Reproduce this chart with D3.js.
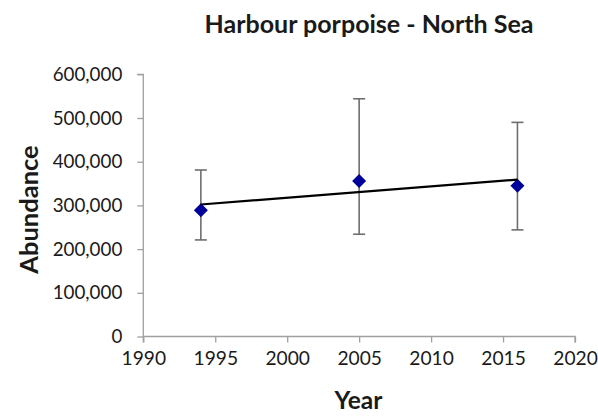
<!DOCTYPE html>
<html>
<head>
<meta charset="utf-8">
<script src="https://cdn.jsdelivr.net/npm/d3@7/dist/d3.min.js"></script>
<style>
  html, body { margin: 0; padding: 0; background: #fff; }
  svg { display: block; }
  text { font-family: Lato, "Open Sans", sans-serif; fill: #1a1a1a; }
</style>
</head>
<body>
<svg id="chart" width="598" height="418"></svg>
<script>
const years = [1994, 2005, 2016];
const abundance = [289000, 356000, 345000];
const lowerCI = [221000, 234000, 244000];
const upperCI = [381000, 544000, 490000];
const trendYears = [1994, 2016];
const trendValues = [302000, 359000];
const xTicks = [1990, 1995, 2000, 2005, 2010, 2015, 2020];
const yTicks = [0, 100000, 200000, 300000, 400000, 500000, 600000];
const titleText = "Harbour porpoise - North Sea";
const xLabel = "Year";
const yLabel = "Abundance";

const svg = d3.select("#chart");
const axisColor = "#a0a0a0";

const x = d3.scaleLinear().domain([1990, 2020]).range([143.3, 575]);
const y = d3.scaleLinear().domain([0, 600000]).range([336.5, 74.3]);

// Y axis
const yAxis = d3.axisLeft(y).tickValues(yTicks).tickSize(6).tickPadding(15).tickFormat(d3.format(","));
const gy = svg.append("g").attr("transform", `translate(${x(1990)},0)`).call(yAxis);
gy.select(".domain").attr("stroke", axisColor).attr("stroke-width", 1.3).attr("d", `M-6,${y(600000)}H0V${y(0)}`);
gy.selectAll(".tick line").attr("stroke", axisColor).attr("stroke-width", 1.3);
gy.selectAll(".tick text").attr("font-size", 18.8).attr("fill", "#1a1a1a").style("font-family", "Lato");

// X axis
const xAxis = d3.axisBottom(x).tickValues(xTicks).tickSize(6).tickPadding(9).tickFormat(d3.format("d"));
const gx = svg.append("g").attr("transform", `translate(0,${y(0)})`).call(xAxis);
gx.select(".domain").attr("stroke", axisColor).attr("stroke-width", 1.3).attr("d", `M${x(1990)},6V0H${x(2020)}V6`);
gx.selectAll(".tick line").attr("stroke", axisColor).attr("stroke-width", 1.3);
gx.selectAll(".tick text").attr("font-size", 19.2).attr("fill", "#1a1a1a").style("font-family", "Lato");

const data = years.map((yr, i) => ({year: yr, value: abundance[i], lo: lowerCI[i], hi: upperCI[i]}));

// Error bars
const eb = svg.append("g").attr("stroke", "#6e6e6e").attr("stroke-width", 1.6).attr("fill", "none");
data.forEach(d => {
  const cx = x(d.year);
  eb.append("line").attr("x1", cx).attr("x2", cx).attr("y1", y(d.lo)).attr("y2", y(d.hi));
  eb.append("line").attr("x1", cx - 6).attr("x2", cx + 6).attr("y1", y(d.lo)).attr("y2", y(d.lo));
  eb.append("line").attr("x1", cx - 6).attr("x2", cx + 6).attr("y1", y(d.hi)).attr("y2", y(d.hi));
});

// Markers
const r = 7;
svg.append("g").selectAll("path").data(data).join("path")
  .attr("d", d => {
    const cx = x(d.year), cy = y(d.value);
    return `M${cx},${cy - r}L${cx + r},${cy}L${cx},${cy + r}L${cx - r},${cy}Z`;
  })
  .attr("fill", "#00009a");

// Trend line
const line = d3.line().x(d => x(d[0])).y(d => y(d[1]));
svg.append("path")
  .datum(trendYears.map((t, i) => [t, trendValues[i]]))
  .attr("d", line)
  .attr("stroke", "#000")
  .attr("stroke-width", 2.2)
  .attr("fill", "none");

// Title
svg.append("text").attr("x", 369).attr("y", 33).attr("text-anchor", "middle")
  .attr("font-size", 25).attr("font-weight", "bold").text(titleText);

// X label
svg.append("text").attr("x", 358.5).attr("y", 409).attr("text-anchor", "middle")
  .attr("font-size", 24.5).attr("font-weight", "bold").text(xLabel);

// Y label
svg.append("text").attr("transform", "translate(38,209.5) rotate(-90)").attr("text-anchor", "middle")
  .attr("font-size", 25.5).attr("font-weight", "bold").text(yLabel);
</script>
</body>
</html>
